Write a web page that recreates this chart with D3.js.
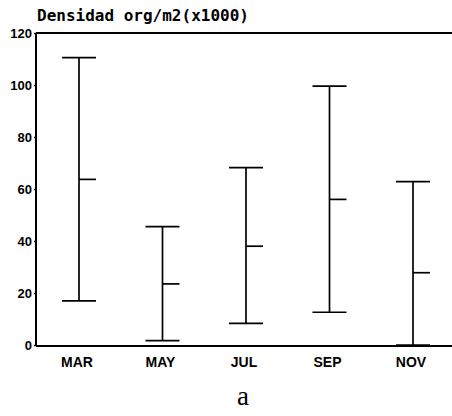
<!DOCTYPE html>
<html>
<head>
<meta charset="utf-8">
<script src="https://cdn.jsdelivr.net/npm/d3@7"></script>
<style>
  body { margin: 0; background: #fff; }
  svg { display: block; }
</style>
</head>
<body>
<svg></svg>
<script>
// meses y valores (min, media, max)
const months = ["MAR", "MAY", "JUL", "SEP", "NOV"];
const minVals = [17, 1.7, 8.3, 12.6, 0];
const meanVals = [63.7, 23.5, 38, 56, 27.8];
const maxVals = [110.5, 45.5, 68.2, 99.6, 62.8];
const yTicks = [0, 20, 40, 60, 80, 100, 120];

const width = 452;
const height = 416;
const plotLeft = 36;
const plotTop = 33;
const plotBottom = 345;

let svg = d3.select("svg")
  .attr("width", width)
  .attr("height", height);

let data = months.map((m, i) => ({ m, lo: minVals[i], mean: meanVals[i], hi: maxVals[i] }));

let scX = d3.scalePoint()
  .domain(months)
  .range([79, 413]);

let scY = d3.scaleLinear()
  .domain([0, 120])
  .range([plotBottom, plotTop]);

// ejes
let axisY = d3.axisLeft(scY)
  .tickValues(yTicks)
  .tickSize(2)
  .tickPadding(2);

let gy = svg.append("g")
  .attr("transform", `translate(${plotLeft}, 0)`)
  .call(axisY);
gy.select(".domain").remove();
gy.selectAll(".tick line").attr("stroke", "#000").attr("stroke-width", 1.5);
gy.selectAll("text")
  .style("font-family", "Liberation Sans, Arial, sans-serif")
  .style("font-size", "13px")
  .style("font-weight", "bold")
  .attr("fill", "#000");

// marco: izquierda, arriba, abajo
svg.append("line")
  .attr("x1", plotLeft).attr("x2", plotLeft)
  .attr("y1", scY(120)).attr("y2", scY(0))
  .attr("stroke", "#000").attr("stroke-width", 2);
svg.append("line")
  .attr("x1", plotLeft).attr("x2", width)
  .attr("y1", scY(120)).attr("y2", scY(120))
  .attr("stroke", "#000").attr("stroke-width", 2);
svg.append("line")
  .attr("x1", plotLeft).attr("x2", width)
  .attr("y1", scY(0) + 1).attr("y2", scY(0) + 1)
  .attr("stroke", "#000").attr("stroke-width", 2);

// barras de rango
const cap = 17;
let g = svg.append("g")
  .attr("stroke", "#000")
  .attr("stroke-width", 1.7);

g.selectAll(".range")
  .data(data)
  .enter()
  .append("line")
  .attr("x1", d => scX(d.m)).attr("x2", d => scX(d.m))
  .attr("y1", d => scY(d.hi)).attr("y2", d => scY(d.lo));

g.selectAll(".capHi")
  .data(data)
  .enter()
  .append("line")
  .attr("x1", d => scX(d.m) - cap).attr("x2", d => scX(d.m) + cap)
  .attr("y1", d => scY(d.hi)).attr("y2", d => scY(d.hi));

g.selectAll(".capLo")
  .data(data)
  .enter()
  .append("line")
  .attr("x1", d => scX(d.m) - cap).attr("x2", d => scX(d.m) + cap)
  .attr("y1", d => scY(d.lo)).attr("y2", d => scY(d.lo));

g.selectAll(".mean")
  .data(data)
  .enter()
  .append("line")
  .attr("x1", d => scX(d.m)).attr("x2", d => scX(d.m) + cap)
  .attr("y1", d => scY(d.mean)).attr("y2", d => scY(d.mean));

// etiquetas del eje X
svg.selectAll(".xlab")
  .data(months)
  .enter()
  .append("text")
  .attr("x", d => scX(d) - 2)
  .attr("y", 367)
  .attr("text-anchor", "middle")
  .style("font-family", "Liberation Sans, Arial, sans-serif")
  .style("font-size", "14px")
  .style("font-weight", "bold")
  .text(d => d);

// titulo del eje Y
svg.append("text")
  .attr("x", 37)
  .attr("y", 21)
  .style("font-family", "DejaVu Sans Mono, monospace")
  .style("font-size", "16px")
  .style("font-weight", "bold")
  .text("Densidad org/m2(x1000)");

// letra del panel
svg.append("text")
  .attr("x", 243)
  .attr("y", 405)
  .attr("text-anchor", "middle")
  .style("font-family", "Liberation Serif, Times New Roman, serif")
  .style("font-size", "27px")
  .text("a");
</script>
</body>
</html>
